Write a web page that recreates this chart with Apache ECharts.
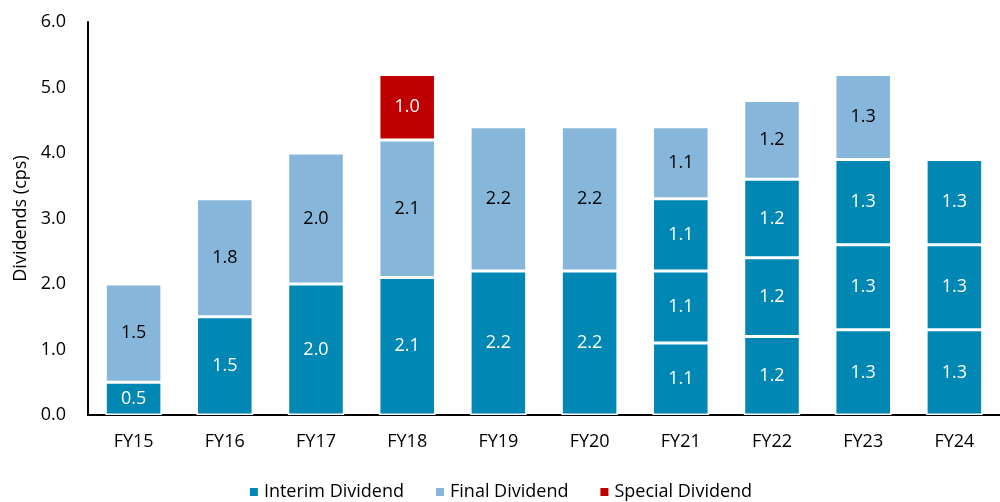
<!DOCTYPE html>
<html>
<head>
<meta charset="utf-8">
<script src="https://cdn.jsdelivr.net/npm/echarts@6/dist/echarts.min.js"></script>
<style>
  html, body { margin: 0; padding: 0; background: #fff; }
  #chart { width: 1000px; height: 502px; }
</style>
</head>
<body>
<div id="chart"></div>
<script>
const categories = ['FY15', 'FY16', 'FY17', 'FY18', 'FY19', 'FY20', 'FY21', 'FY22', 'FY23', 'FY24']
// interim payments stack from the bottom; later years have several
const interim1 = [0.5, 1.5, 2.0, 2.1, 2.2, 2.2, 1.1, 1.2, 1.3, 1.3]
const interim2 = [null, null, null, null, null, null, 1.1, 1.2, 1.3, 1.3]
const interim3 = [null, null, null, null, null, null, 1.1, 1.2, 1.3, 1.3]
const finalDiv = [1.5, 1.8, 2.0, 2.1, 2.2, 2.2, 1.1, 1.2, 1.3, null]
const specialDiv = [null, null, null, 1.0, null, null, null, null, null, null]
const yTicks = [0, 1, 2, 3, 4, 5, 6]

const FONT = 'Open Sans'
const FS = 18
const C_INTERIM = '#0087b4'
const C_FINAL = '#86b7da'
const C_SPECIAL = '#c00000'

var myChart = echarts.init(document.getElementById('chart'))

function seg(name, data, color, labelColor) {
  return {
    name: name,
    type: 'bar',
    stack: 'total',
    barWidth: '62%',
    data: data,
    itemStyle: {
      color: color,
      borderColor: '#fff',
      borderWidth: 1.5
    },
    label: {
      show: true,
      position: 'inside',
      color: labelColor,
      fontFamily: FONT,
      fontSize: FS,
      formatter: p => p.value.toFixed(1)
    },
    emphasis: { disabled: true }
  }
}

var option = {
  animation: false,
  textStyle: { fontFamily: FONT },
  grid: {
    left: 88,
    right: -8,
    top: 22,
    bottom: 87
  },
  legend: {
    data: ['Interim Dividend', 'Final Dividend', 'Special Dividend'],
    bottom: -4,
    left: 'center',
    itemWidth: 10,
    itemHeight: 10,
    itemGap: 30,
    icon: 'rect',
    textStyle: { fontFamily: FONT, fontSize: FS, color: '#000' }
  },
  xAxis: {
    type: 'category',
    data: categories,
    axisTick: { show: false },
    axisLine: { lineStyle: { color: '#000', width: 2 } },
    axisLabel: { color: '#000', fontSize: FS, fontFamily: FONT, margin: 18 }
  },
  yAxis: {
    type: 'value',
    min: yTicks[0],
    max: yTicks[yTicks.length - 1],
    interval: 1,
    name: 'Dividends (cps)',
    nameLocation: 'middle',
    nameGap: 58,
    nameTextStyle: { color: '#000', fontSize: FS, fontFamily: FONT },
    splitLine: { show: false },
    axisTick: { show: false },
    axisLine: { show: true, lineStyle: { color: '#000', width: 2 } },
    axisLabel: {
      color: '#000',
      fontSize: FS,
      fontFamily: FONT,
      margin: 22,
      formatter: v => v.toFixed(1)
    }
  },
  series: [
    seg('Interim Dividend', interim1, C_INTERIM, '#fff'),
    seg('Interim Dividend 2', interim2, C_INTERIM, '#fff'),
    seg('Interim Dividend 3', interim3, C_INTERIM, '#fff'),
    seg('Final Dividend', finalDiv, C_FINAL, '#000'),
    seg('Special Dividend', specialDiv, C_SPECIAL, '#fff')
  ]
}

option && myChart.setOption(option)
</script>
</body>
</html>
